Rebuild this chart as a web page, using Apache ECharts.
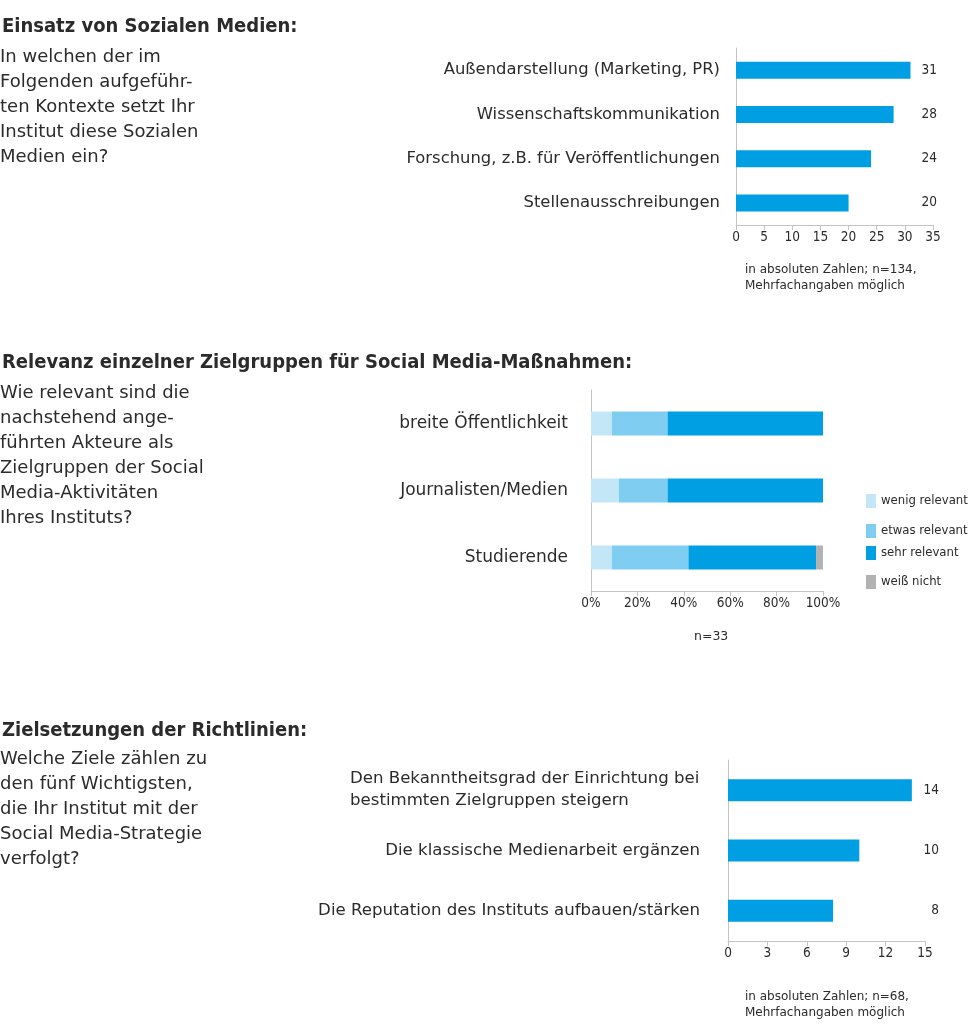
<!DOCTYPE html>
<html><head><meta charset="utf-8">
<script src="https://cdn.jsdelivr.net/npm/echarts@6/dist/echarts.min.js"></script>
<style>html,body{margin:0;padding:0;background:#fff}#c{width:978px;height:1024px}</style>
</head><body><div id="c"></div>
<script>
// ---- data ----
const q1Title = 'Einsatz von Sozialen Medien:';
const q1Question = 'In welchen der im\nFolgenden aufgeführ-\nten Kontexte setzt Ihr\nInstitut diese Sozialen\nMedien ein?';
const q1Categories = ['Außendarstellung (Marketing, PR)', 'Wissenschaftskommunikation', 'Forschung, z.B. für Veröffentlichungen', 'Stellenausschreibungen'];
const q1Values = [31, 28, 24, 20];
const q1AxisMin = 0, q1AxisMax = 35, q1AxisStep = 5;
const q1Note = 'in absoluten Zahlen; n=134,\nMehrfachangaben möglich';

const q2Title = 'Relevanz einzelner Zielgruppen für Social Media-Maßnahmen:';
const q2Question = 'Wie relevant sind die\nnachstehend ange-\nführten Akteure als\nZielgruppen der Social\nMedia-Aktivitäten\nIhres Instituts?';
const q2Categories = ['breite Öffentlichkeit', 'Journalisten/Medien', 'Studierende'];
const q2SeriesNames = ['wenig relevant', 'etwas relevant', 'sehr relevant', 'weiß nicht'];
const q2Wenig = [9, 12, 9];
const q2Etwas = [24, 21, 33];
const q2Sehr = [67, 67, 55];
const q2WeissNicht = [0, 0, 3];
const q2AxisMin = 0, q2AxisMax = 100, q2AxisStep = 20;
const q2Note = 'n=33';

const q3Title = 'Zielsetzungen der Richtlinien:';
const q3Question = 'Welche Ziele zählen zu\nden fünf Wichtigsten,\ndie Ihr Institut mit der\nSocial Media-Strategie\nverfolgt?';
const q3Categories = ['Den Bekanntheitsgrad der Einrichtung bei\nbestimmten Zielgruppen steigern', 'Die klassische Medienarbeit ergänzen', 'Die Reputation des Instituts aufbauen/stärken'];
const q3Values = [14, 10, 8];
const q3AxisMin = 0, q3AxisMax = 15, q3AxisStep = 3;
const q3Note = 'in absoluten Zahlen; n=68,\nMehrfachangaben möglich';

// ---- style ----
const FONT_C = '"DejaVu Sans Condensed", "DejaVu Sans", sans-serif';
const FONT = '"DejaVu Sans", sans-serif';
const TXT = '#2b2b2b';
const AX = '#c4c4c4';
const BLUE = '#009fe3';
const Q2COLORS = ['#c4e7f8', '#7fcdf1', '#009fe3', '#b2b2b2'];

function measure(text, size, font) {
  const ctx = document.createElement('canvas').getContext('2d');
  ctx.font = size + 'px ' + font;
  return Math.ceil(ctx.measureText(text).width);
}

function xAxisCfg(grid, min, max, step, fmt) {
  return {
    gridIndex: grid, type: 'value', min: min, max: max, interval: step,
    splitLine: { show: false },
    axisLine: { show: true, lineStyle: { color: AX, width: 1 } },
    axisTick: { show: true, length: 5, lineStyle: { color: AX } },
    axisLabel: { fontSize: 13.5, color: TXT, margin: 5, fontFamily: FONT_C, formatter: fmt || '{value}' }
  };
}
function yAxisCfg(grid, cats, margin, size) {
  return {
    gridIndex: grid, type: 'category', data: cats, inverse: true,
    axisLine: { show: true, lineStyle: { color: AX, width: 1 } },
    axisTick: { show: false },
    splitLine: { show: false },
    axisLabel: { fontSize: size, color: TXT, margin: margin, fontFamily: FONT, lineHeight: 22 }
  };
}

const Q3_SIZE = 16.6;
// left-align the lines of multi-line category labels inside a right-aligned block
const q3Rich = {};
q3Categories.forEach((c, i) => {
  if (c.indexOf('\n') >= 0) {
    const w = Math.max.apply(null, c.split('\n').map(l => measure(l, Q3_SIZE, FONT)));
    q3Rich['l' + i] = { width: w, align: 'left', fontSize: Q3_SIZE, color: TXT, fontFamily: FONT, lineHeight: 22 };
  }
});
function q3Formatter(value) {
  const i = q3Categories.indexOf(value);
  if (q3Rich['l' + i]) return value.split('\n').map(l => '{l' + i + '|' + l + '}').join('\n');
  return value;
}

function valueBars(xi, values, max, width, dx) {
  return [
    { type: 'bar', xAxisIndex: xi, yAxisIndex: xi, data: values, barWidth: width, itemStyle: { color: BLUE }, silent: true, z: 2 },
    { type: 'bar', xAxisIndex: xi, yAxisIndex: xi, data: values.map(() => max), barWidth: width, barGap: '-100%',
      itemStyle: { color: 'rgba(0,0,0,0)' }, silent: true, z: 3,
      label: { show: true, position: 'insideRight', distance: 0, offset: [dx, 0], fontSize: 13.5, color: TXT, fontFamily: FONT_C,
        formatter: p => String(values[p.dataIndex]) } }
  ];
}

const q2Data = [q2Wenig, q2Etwas, q2Sehr, q2WeissNicht];
const legendCenters = [501, 531, 553, 582];

function textBlock(text, left, top, size, lh, bold, font) {
  return { text: text, left: left, top: top, padding: 0,
    textStyle: { fontSize: size, lineHeight: lh, fontWeight: bold ? 'bold' : 'normal', color: TXT, fontFamily: font || FONT } };
}

const option = {
  animation: false,
  backgroundColor: '#ffffff',
  title: [
    textBlock(q1Title, 2, 15, 20, 24, true, FONT_C),
    textBlock(q1Question, 0, 45, 18, 25, false),
    textBlock(q1Note, 745, 262, 12, 16, false),
    textBlock(q2Title, 2, 351, 20, 24, true, FONT_C),
    textBlock(q2Question, 0, 381, 18, 25, false),
    textBlock(q2Note, 694, 629, 12.5, 16, false),
    textBlock(q3Title, 2, 719, 20, 24, true, FONT_C),
    textBlock(q3Question, 0, 747, 18, 25, false),
    textBlock(q3Note, 745, 989, 12, 16, false)
  ],
  legend: q2SeriesNames.map((n, i) => ({
    data: [n], left: 866, top: legendCenters[i] - 7, icon: 'rect', itemWidth: 10, itemHeight: 14,
    selectedMode: false, padding: 0, textStyle: { fontSize: 13, color: TXT, fontFamily: FONT_C }
  })),
  grid: [
    { left: 736, top: 48, width: 197, height: 177 },
    { left: 591, top: 390, width: 232, height: 201 },
    { left: 728, top: 760, width: 197, height: 181 }
  ],
  xAxis: [
    xAxisCfg(0, q1AxisMin, q1AxisMax, q1AxisStep),
    xAxisCfg(1, q2AxisMin, q2AxisMax, q2AxisStep, '{value}%'),
    xAxisCfg(2, q3AxisMin, q3AxisMax, q3AxisStep)
  ],
  yAxis: [
    yAxisCfg(0, q1Categories, 16, 16.4),
    yAxisCfg(1, q2Categories, 23, 17),
    yAxisCfg(2, q3Categories, 28, Q3_SIZE)
  ],
  series: [].concat(
    valueBars(0, q1Values, q1AxisMax, 17, 4),
    q2SeriesNames.map((n, i) => ({
      name: n, type: 'bar', stack: 'rel', xAxisIndex: 1, yAxisIndex: 1, data: q2Data[i], barWidth: 24,
      itemStyle: { color: Q2COLORS[i] }, silent: true
    })),
    valueBars(2, q3Values, q3AxisMax, 22, 14)
  )
};
option.yAxis[2].axisLabel.formatter = q3Formatter;
option.yAxis[2].axisLabel.rich = q3Rich;

const chart = echarts.init(document.getElementById('c'), null, { renderer: 'canvas' });
chart.setOption(option);
</script>
</body></html>
